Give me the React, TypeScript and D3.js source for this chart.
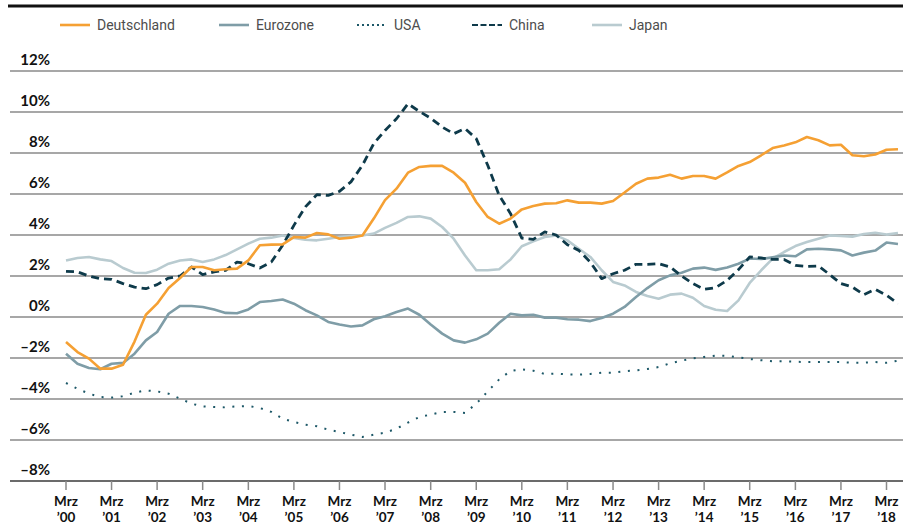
import * as d3 from "d3";

// quarterly values, Mrz '00 .. Jun '18
const deutschland = [
  -1.22, -1.71, -2.03, -2.52, -2.52, -2.33, -1.2, 0.11, 0.65, 1.41, 1.9, 2.44, 2.44, 2.28, 2.33, 2.36,
  2.76, 3.5, 3.53, 3.54, 3.9, 3.87, 4.1, 4.03, 3.82, 3.87, 3.98, 4.8, 5.7, 6.26, 7.04, 7.32,
  7.37, 7.37, 7.04, 6.55, 5.61, 4.88, 4.55, 4.8, 5.25, 5.41, 5.53, 5.55, 5.69, 5.58, 5.58, 5.53,
  5.66, 6.07, 6.5, 6.75, 6.8, 6.94, 6.75, 6.88, 6.88, 6.75, 7.05, 7.37, 7.56, 7.89, 8.24, 8.37,
  8.52, 8.78, 8.62, 8.37, 8.4, 7.89, 7.84, 7.93, 8.16, 8.18,
];
const eurozone = [
  -1.79, -2.28, -2.49, -2.55, -2.28, -2.24, -1.79, -1.14, -0.73, 0.16, 0.54, 0.54, 0.49, 0.37, 0.2, 0.18,
  0.37, 0.73, 0.78, 0.85, 0.65, 0.33, 0.08, -0.24, -0.37, -0.46, -0.41, -0.11, 0.04, 0.24, 0.41, 0.11,
  -0.37, -0.81, -1.14, -1.25, -1.09, -0.81, -0.28, 0.16, 0.08, 0.11, -0.03, -0.03, -0.11, -0.13, -0.2, -0.05,
  0.16, 0.49, 0.98, 1.41, 1.79, 2.03, 2.16, 2.36, 2.41, 2.3, 2.41, 2.6, 2.85, 2.83, 2.91, 3.0,
  2.96, 3.3, 3.33, 3.3, 3.25, 3.0, 3.14, 3.24, 3.63, 3.56,
];
const usa = [
  -3.22, -3.5, -3.74, -3.9, -3.93, -3.87, -3.69, -3.58, -3.63, -3.74, -3.98, -4.23, -4.36, -4.39, -4.41, -4.36,
  -4.34, -4.44, -4.63, -4.96, -5.12, -5.25, -5.33, -5.5, -5.61, -5.74, -5.85, -5.74, -5.64, -5.45, -5.15, -4.88,
  -4.76, -4.63, -4.63, -4.68, -4.23, -3.63, -3.04, -2.63, -2.55, -2.62, -2.78, -2.76, -2.8, -2.81, -2.78, -2.72,
  -2.72, -2.65, -2.6, -2.54, -2.44, -2.26, -2.13, -2.02, -1.95, -1.88, -1.89, -1.97, -2.05, -2.11, -2.16, -2.16,
  -2.18, -2.2, -2.2, -2.2, -2.2, -2.23, -2.23, -2.2, -2.23, -2.13,
];
const china = [
  2.23, 2.2, 2.0, 1.87, 1.84, 1.63, 1.46, 1.38, 1.58, 1.9, 2.0, 2.44, 2.07, 2.2, 2.28, 2.68,
  2.6, 2.39, 2.68, 3.5, 4.47, 5.37, 5.97, 5.93, 6.13, 6.59, 7.4, 8.46, 9.1, 9.67, 10.4, 10.03,
  9.7, 9.27, 8.94, 9.19, 8.7, 7.4, 5.93, 5.04, 3.85, 3.79, 4.15, 4.0, 3.53, 3.25, 2.68, 1.87,
  2.11, 2.28, 2.57, 2.57, 2.6, 2.44, 2.0, 1.63, 1.35, 1.43, 1.79, 2.31, 2.93, 2.88, 2.81, 2.81,
  2.52, 2.47, 2.49, 2.07, 1.63, 1.46, 1.09, 1.35, 1.06, 0.65,
];
const japan = [
  2.76, 2.88, 2.93, 2.81, 2.73, 2.39, 2.16, 2.15, 2.31, 2.6, 2.76, 2.81, 2.68, 2.81, 3.02, 3.3,
  3.58, 3.82, 3.87, 3.98, 3.85, 3.77, 3.74, 3.82, 3.9, 3.95, 3.98, 4.07, 4.35, 4.59, 4.88, 4.91,
  4.8, 4.39, 3.82, 3.0, 2.28, 2.28, 2.33, 2.81, 3.45, 3.69, 3.9, 3.98, 3.74, 3.33, 2.93, 2.28,
  1.71, 1.54, 1.22, 1.02, 0.89, 1.09, 1.14, 0.94, 0.54, 0.35, 0.29, 0.81, 1.66, 2.28, 2.85, 3.17,
  3.46, 3.66, 3.82, 3.98, 3.95, 3.92, 4.05, 4.11, 4.02, 4.1,
];

const yTicks = [-8, -6, -4, -2, 0, 2, 4, 6, 8, 10, 12];
const tickYears = d3.range(2000, 2019);

const series = [
  { name: "Deutschland", values: deutschland, color: "#f5a033", width: 2.6, dash: null, legendDash: null },
  { name: "Eurozone", values: eurozone, color: "#7f9da7", width: 2.6, dash: null, legendDash: null },
  { name: "USA", values: usa, color: "#1d5868", width: 2, dash: "2,7.6", legendDash: "2,3" },
  { name: "China", values: china, color: "#0e3a4a", width: 2.8, dash: "8,5", legendDash: "6,2.5" },
  { name: "Japan", values: japan, color: "#b9cbd0", width: 2.6, dash: null, legendDash: null },
];
const legendX = [60, 219, 357, 472, 592];

const W = 903;
const H = 525;
const start = new Date(2000, 2, 1);

export default function App() {
  const x = d3.scaleTime().domain([start, new Date(2018, 2, 1)]).range([66, 886.5]);
  const y = d3.scaleLinear().domain([-8, 12]).range([481, 71]);
  const dateAt = (i: number) => d3.timeMonth.offset(start, 3 * i);

  const line = d3
    .line<number>()
    .x((_, i) => x(dateAt(i)))
    .y((d) => y(d));

  const font = "Lato, 'Open Sans', sans-serif";

  return (
    <svg width={W} height={H} style={{ position: "absolute", left: 0, top: 0 }}>
      <rect x={0} y={0} width={W} height={H} fill="#fff" />
      <line x1={8} x2={W} y1={6} y2={6} stroke="#111" strokeWidth={3} />

      {/* legend */}
      {series.map((s, k) => (
        <g key={s.name} transform={`translate(${legendX[k]},25)`}>
          <line x1={0} x2={30} y1={0} y2={0} stroke={s.color} strokeWidth={s.legendDash ? 2.2 : 2.6}
            strokeDasharray={s.legendDash || undefined} />
          <text x={37} y={5} fontFamily="Roboto, sans-serif" fontSize={14} fill="#4d4d4d">{s.name}</text>
        </g>
      ))}

      {/* grid */}
      {yTicks.map((t) => (
        <g key={t}>
          <line x1={10} x2={W} y1={y(t)} y2={y(t)} stroke={t === -8 ? "#3a3a3a" : "#8a8a8a"} strokeWidth={1.5} />
          <text x={50} y={y(t) - 6} textAnchor="end" fontFamily={font} fontWeight={700} fontSize={15} fill="#111">
            {(t < 0 ? "\u2013" + Math.abs(t) : t) + "%"}
          </text>
        </g>
      ))}

      {/* x axis ticks */}
      {tickYears.map((yr) => {
        const px = x(new Date(yr, 2, 1));
        return (
          <g key={yr}>
            <line x1={px} x2={px} y1={481} y2={490} stroke="#8a8a8a" strokeWidth={1.5} />
            <text x={px} y={505.5} textAnchor="middle" fontFamily={font} fontWeight={700} fontSize={13.5} fill="#111">Mrz</text>
            <text x={px} y={522} textAnchor="middle" fontFamily={font} fontWeight={700} fontSize={13.5} fill="#111">
              {"\u2019" + String(yr % 100).padStart(2, "0")}
            </text>
          </g>
        );
      })}

      {/* series, drawn back to front */}
      {[4, 2, 1, 3, 0].map((k) => {
        const s = series[k];
        return (
          <path key={s.name} d={line(s.values) || ""} fill="none" stroke={s.color} strokeWidth={s.width}
            strokeDasharray={s.dash || undefined} strokeLinejoin="round" />
        );
      })}
    </svg>
  );
}
